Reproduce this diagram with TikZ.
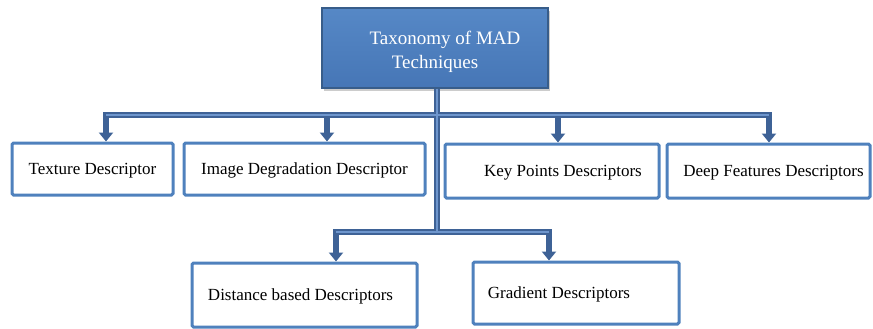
\documentclass[tikz,border=0pt]{standalone}
\usepackage{fontspec}
\setmainfont{Liberation Serif}
\usetikzlibrary{arrows.meta,shadows}
\definecolor{boxblue}{RGB}{79,129,189}
\definecolor{conndark}{RGB}{62,98,150}
\definecolor{connlight}{RGB}{110,150,205}
\definecolor{topedge}{RGB}{56,93,138}
\definecolor{toptop}{RGB}{86,136,198}
\definecolor{topbot}{RGB}{70,118,182}
\tikzset{
  leaf/.style={draw=boxblue, line width=3pt, rounded corners=1.5pt, fill=white,
    font=\fontsize{17}{20}\selectfont, text=black, inner sep=0pt, text depth=0pt},
  rootbox/.style={draw=topedge, line width=1.2pt, top color=toptop, bottom color=topbot,
    drop shadow={shadow xshift=2pt, shadow yshift=-3pt, opacity=0.4},
    font=\fontsize{19}{24}\selectfont, text=white, align=center, inner sep=0pt},
  conn/.style={draw=conndark, line width=6pt, -{Triangle[width=14pt,length=9pt]}},
  connline/.style={draw=conndark, line width=6pt},
  hl/.style={draw=connlight, line width=1.2pt},
}
\begin{document}
\begin{tikzpicture}[x=1pt,y=-1pt]
\useasboundingbox (0,0) rectangle (873,329);
% nodes
\node[rootbox, minimum width=226pt, minimum height=80pt] (top) at (435,48)
  {\rule{0pt}{21pt}\hspace*{20pt}Taxonomy of MAD\\Techniques};
\node[leaf, minimum width=161pt, minimum height=52pt] (tex) at (92.5,169) {Texture Descriptor};
\node[leaf, minimum width=241pt, minimum height=52pt] (img) at (304.5,169) {Image Degradation Descriptor};
\node[leaf, minimum width=214pt, minimum height=54pt] (key) at (552,171) {\hspace*{22pt}Key Points Descriptors};
\node[leaf, minimum width=203pt, minimum height=54pt] (deep) at (768.5,171) {\hspace*{10pt}Deep Features Descriptors};
\node[leaf, minimum width=225pt, minimum height=64pt] (dist) at (304.5,295) {Distance based Descriptors\hspace*{8pt}};
\node[leaf, minimum width=206pt, minimum height=62pt] (grad) at (576,293) {Gradient Descriptors\hspace*{34pt}};
% junction coordinates
\coordinate (bar) at (437,115);
\coordinate (low) at (437,232);
% connectors (dark body)
\draw[connline] (top.south -| bar) -- (low);
\draw[conn] (bar) -| ([xshift=13.5pt]tex.north);
\draw[conn] (bar) -| ([xshift=22.5pt]img.north);
\draw[conn] (bar) -| ([xshift=6pt]key.north);
\draw[conn] (bar) -| ([xshift=0.5pt]deep.north);
\draw[conn] (low) -| ([xshift=31.5pt]dist.north);
\draw[conn] (low) -| ([xshift=-27pt]grad.north);
% light centre lines
\draw[hl] (top.south -| bar) -- (low);
\draw[hl] ([xshift=13.5pt]tex.north |- bar) -- ([xshift=0.5pt]deep.north |- bar);
\draw[hl] ([xshift=31.5pt]dist.north |- low) -- ([xshift=-27pt]grad.north |- low);
\end{tikzpicture}
\end{document}
